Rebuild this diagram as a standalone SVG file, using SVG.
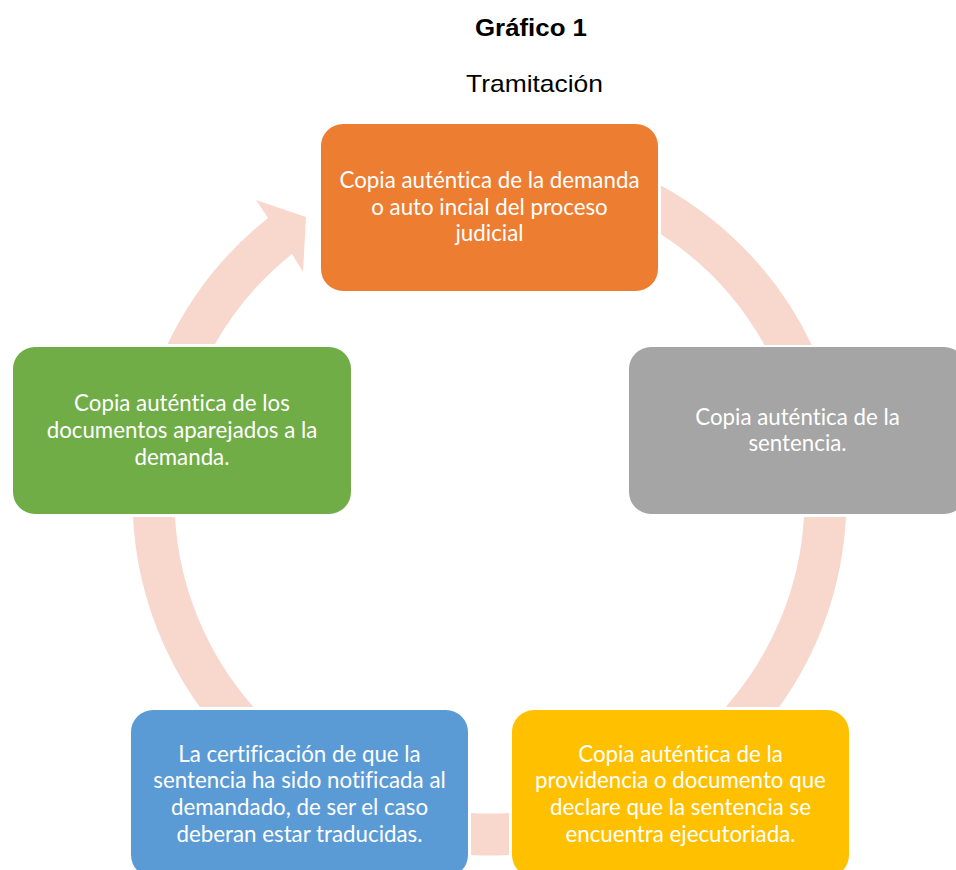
<svg xmlns="http://www.w3.org/2000/svg" width="956" height="870" viewBox="0 0 956 870">
<style>
.ring{fill:#F8D8CD;stroke:none}
.box{stroke:none}
.lbl{font-family:Lato,"Liberation Sans",sans-serif;font-size:22.3px;fill:#FFFFFF;text-anchor:middle;font-variant-ligatures:none}
.title{font-family:"Liberation Sans",Arial,sans-serif;fill:#000000;text-anchor:middle}
</style>
<rect width="956" height="870" fill="#FFFFFF"/>
<text class="title" x="531" y="35.5" font-size="23" font-weight="bold" textLength="112" lengthAdjust="spacingAndGlyphs">Gráfico 1</text>
<text class="title" x="534.5" y="92" font-size="24" textLength="137" lengthAdjust="spacingAndGlyphs">Tramitación</text>
<g id="connectors">
<path class="ring" d="M661,185.4 A357,357 0 0 1 811.8,345 L764.5,345 A315,315 0 0 0 661,234.3 Z"/>
<path class="ring" d="M846,517 A357,357 0 0 1 779.3,707 L725.6,707 A315,315 0 0 0 804,517 Z"/>
<path class="ring" d="M471,812.9 L471,855 A357,357 0 0 0 509,855 L509,812.9 A315,315 0 0 1 471,812.9 Z"/>
<path class="ring" d="M199.7,707 A357,357 0 0 1 133,517 L175,517 A315,315 0 0 0 253.4,707 Z"/>
<path class="ring" d="M167.7,344 A357,357 0 0 1 268,218 L256,200 L306,217 L303,272 L292,254 A315,315 0 0 0 215,344 Z"/>
</g>
<g id="node1">
<rect class="box" x="321" y="124" width="337" height="167" rx="22" fill="#ED7D31"/>
<text class="lbl"><tspan x="489.5" y="188">Copia auténtica de la demanda</tspan><tspan x="489.5" y="214.7">o auto incial del proceso</tspan><tspan x="489.5" y="241.4">judicial</tspan></text>
</g>
<g id="node2">
<rect class="box" x="629" y="347" width="337" height="167" rx="22" fill="#A5A5A5"/>
<text class="lbl"><tspan x="797.5" y="424.7">Copia auténtica de la</tspan><tspan x="797.5" y="451.4">sentencia.</tspan></text>
</g>
<g id="node3">
<rect class="box" x="512" y="710" width="337" height="167" rx="22" fill="#FFC000"/>
<text class="lbl"><tspan x="680.5" y="761.7">Copia auténtica de la</tspan><tspan x="680.5" y="788.4">providencia o documento que</tspan><tspan x="680.5" y="815.1">declare que la sentencia se</tspan><tspan x="680.5" y="841.8">encuentra ejecutoriada.</tspan></text>
</g>
<g id="node4">
<rect class="box" x="131" y="710" width="337" height="167" rx="22" fill="#5B9BD5"/>
<text class="lbl"><tspan x="299.5" y="761.7">La certificación de que la</tspan><tspan x="299.5" y="788.4">sentencia ha sido notificada al</tspan><tspan x="299.5" y="815.1">demandado, de ser el caso</tspan><tspan x="299.5" y="841.8">deberan estar traducidas.</tspan></text>
</g>
<g id="node5">
<rect class="box" x="13" y="347" width="338" height="167" rx="22" fill="#70AD47"/>
<text class="lbl"><tspan x="182" y="411.3">Copia auténtica de los</tspan><tspan x="182" y="438">documentos aparejados a la</tspan><tspan x="182" y="464.7">demanda.</tspan></text>
</g>
</svg>
